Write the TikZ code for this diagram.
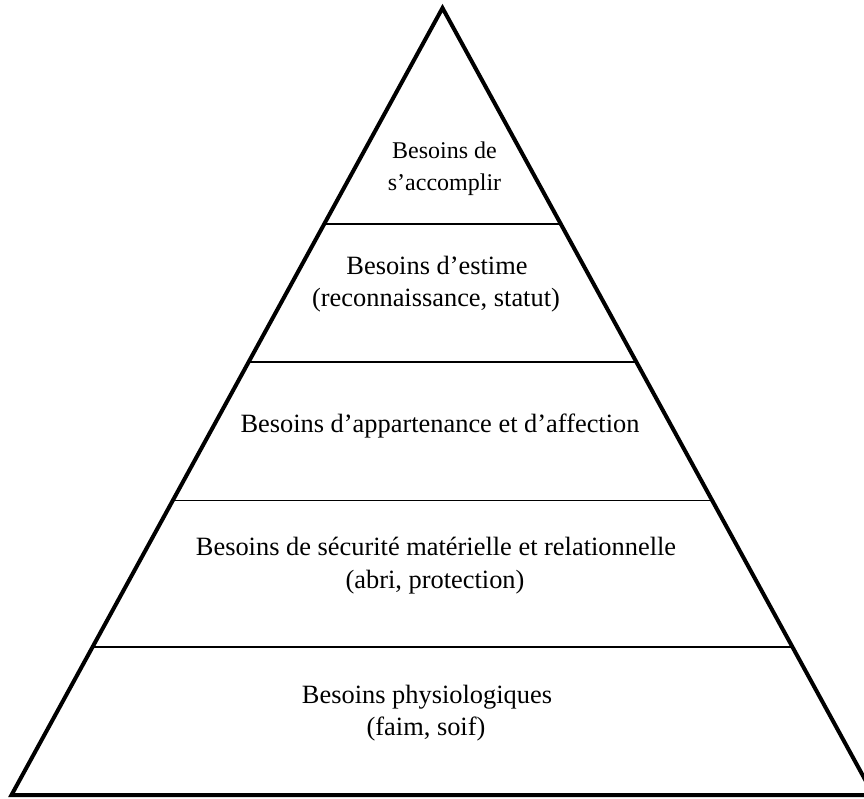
\documentclass[tikz,border=0pt]{standalone}
\usepackage{fontspec}
\setmainfont{Liberation Serif}
\usetikzlibrary{calc}
\begin{document}
\begin{tikzpicture}[x=1pt,y=-1pt,
  side/.style={line width=4pt,line join=miter},
  tier/.style={line width=1.3pt},
  lbl/.style={anchor=base,inner sep=0pt,font=\fontsize{26.4}{32}\selectfont},
  lbltop/.style={anchor=base,inner sep=0pt,font=\fontsize{24}{30}\selectfont}]
\useasboundingbox (0,0) rectangle (864,798);
\coordinate (apex) at (442.5,8);
\coordinate (bl) at (11.5,795);
\coordinate (br) at (873.5,795);
% tier lines
\foreach \n/\t in {a/0.2745,b/0.4498,c/0.6258,d/0.8120}{
  \coordinate (\n L) at ($(apex)!\t!(bl)$);
  \coordinate (\n R) at ($(apex)!\t!(br)$);
  \draw[tier] (\n L) -- (\n R);
}
\draw[side] (apex) -- (bl) -- (br) -- cycle;
% labels
\node[lbltop] (t1) at (444.5,158) {Besoins de};
\node[lbltop] (t2) at (444.5,190) {s’accomplir};
\node[lbl] (e1) at (437,274) {Besoins d’estime};
\node[lbl] (e2) at (436,306) {(reconnaissance, statut)};
\node[lbl] (ap) at (440,432) {Besoins d’appartenance et d’affection};
\node[lbl] (s1) at (436,555) {Besoins de sécurité matérielle et relationnelle};
\node[lbl] (s2) at (435,588) {(abri, protection)};
\node[lbl] (p1) at (427,703) {Besoins physiologiques};
\node[lbl] (p2) at (426,735) {(faim, soif)};
\end{tikzpicture}
\end{document}
